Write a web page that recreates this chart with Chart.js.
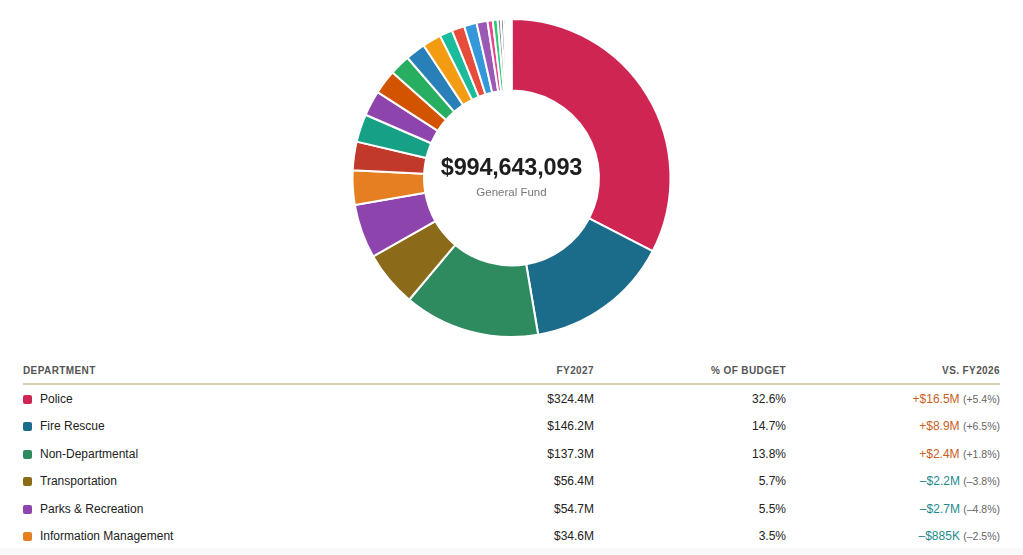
<!DOCTYPE html>
<html>
<head>
<meta charset="utf-8">
<script src="https://cdn.jsdelivr.net/npm/chart.js@4.4.1/dist/chart.umd.min.js"></script>
<style>
    html, body {
        margin: 0;
        padding: 0;
        background: #fff;
        width: 1023px;
        height: 555px;
        overflow: hidden;
        font-family: "Liberation Sans", Arial, Helvetica, sans-serif;
        color: #222;
    }
    #chartBox {
        position: absolute;
        left: 0;
        top: 18px;
        width: 1023px;
        height: 320px;
    }
    #centerLabel {
        position: absolute;
        left: 0;
        width: 1023px;
        top: 153px;
        text-align: center;
        pointer-events: none;
    }
    #centerTotal {
        font-size: 23.5px;
        font-weight: bold;
        color: #1e1e1e;
        line-height: 28px;
        letter-spacing: -0.2px;
    }
    #centerName {
        font-size: 11.5px;
        color: #777;
        line-height: 14px;
        margin-top: 4px;
    }
    #deptTable {
        position: absolute;
        left: 23px;
        top: 357px;
        width: 977px;
        border-collapse: collapse;
        table-layout: fixed;
    }
    #deptTable th {
        height: 26px;
        padding: 0;
        font-size: 10px;
        font-weight: bold;
        color: #555;
        letter-spacing: 0.4px;
        text-transform: uppercase;
        border-bottom: 2px solid #dcd0b2;
        vertical-align: middle;
    }
    #deptTable td {
        height: 27.5px;
        padding: 0;
        font-size: 12px;
        color: #222;
        vertical-align: middle;
        white-space: nowrap;
    }
    .left { text-align: left; }
    .right { text-align: right; }
    .swatch {
        display: inline-block;
        width: 9px;
        height: 9px;
        border-radius: 2px;
        margin-right: 8px;
        vertical-align: -1px;
    }
    .up { color: #c8601e; }
    .down { color: #1e8a8c; }
    .pct { font-size: 10.5px; color: #666; }
    #fade {
        position: absolute;
        left: 0;
        top: 548px;
        width: 1023px;
        height: 7px;
        background: #f9f9f9;
    }
</style>
</head>
<body>

<div id="chartBox"><canvas id="chart"></canvas></div>
<div id="centerLabel">
    <div id="centerTotal"></div>
    <div id="centerName">General Fund</div>
</div>

<table id="deptTable">
    <colgroup>
        <col style="width:440px">
        <col style="width:131px">
        <col style="width:192px">
        <col style="width:214px">
    </colgroup>
    <thead>
        <tr>
            <th class="left">Department</th>
            <th class="right">FY2027</th>
            <th class="right">% of Budget</th>
            <th class="right">vs. FY2026</th>
        </tr>
    </thead>
    <tbody id="tableBody"></tbody>
</table>
<div id="fade"></div>

<script>
// General Fund total
const totalBudget = 994643093;
const fundName = "General Fund";

// named departments (shown in the table)
const departments = ["Police", "Fire Rescue", "Non-Departmental", "Transportation", "Parks & Recreation", "Information Management"];
const fy2027 = [324.4, 146.2, 137.3, 56.4, 54.7, 34.6];           // $M
const budgetShare = [32.6, 14.7, 13.8, 5.7, 5.5, 3.5];             // %
const changeVsFy2026 = [16.5, 8.9, 2.4, -2.2, -2.7, -0.885];       // $M
const changePct = [5.4, 6.5, 1.8, -3.8, -4.8, -2.5];               // %

// remaining smaller departments ($M)
const otherValues = [28.9, 28.2, 25.5, 24.7, 20.8, 20.3, 18.9, 13.0, 12.9, 12.7, 11.0,
    5.3, 4.9, 3.3, 2.8, 2.2, 1.7, 1.2, 0.9, 0.7, 0.5, 0.4, 0.2];

const deptColors = ["#cf2553", "#1b6c8b", "#2e8b5f", "#8b6b1a", "#8e44ad", "#e67e22"];
const otherColors = ["#c0392b", "#16a085", "#8e44ad", "#d35400", "#27ae60", "#2980b9",
    "#f39c12", "#1abc9c", "#e74c3c", "#3498db", "#9b59b6", "#e84393", "#2ecc71",
    "#7f8c8d", "#5d6d7e", "#48c9e0", "#f0b27a", "#d5d8dc", "#aed6f1", "#f5cba7",
    "#d7bde2", "#a9dfbf", "#fadbd8"];

function formatMoney(m) {
    let a = Math.abs(m);
    if (a < 1) return "$" + Math.round(a * 1000) + "K";
    return "$" + a.toFixed(1) + "M";
}

function signOf(v) {
    return v < 0 ? "\u2013" : "+";
}

function buildTable() {
    let body = document.getElementById("tableBody");
    for (let i = 0; i < departments.length; i++) {
        let tr = document.createElement("tr");
        let cls = changeVsFy2026[i] < 0 ? "down" : "up";
        tr.innerHTML =
            '<td class="left"><span class="swatch" style="background:' + deptColors[i] + '"></span>' +
            departments[i].replace("&", "&amp;") + '</td>' +
            '<td class="right">' + formatMoney(fy2027[i]) + '</td>' +
            '<td class="right">' + budgetShare[i].toFixed(1) + '%</td>' +
            '<td class="right"><span class="' + cls + '">' + signOf(changeVsFy2026[i]) + formatMoney(changeVsFy2026[i]) +
            '</span> <span class="pct">(' + signOf(changePct[i]) + Math.abs(changePct[i]).toFixed(1) + '%)</span></td>';
        body.appendChild(tr);
    }
}

function drawChart() {
    let ctx = document.getElementById("chart").getContext("2d");
    let labels = departments.concat(otherValues.map(() => ""));

    new Chart(ctx, {
        type: "doughnut",
        data: {
            labels: labels,
            datasets: [{
                data: fy2027.concat(otherValues),
                backgroundColor: deptColors.concat(otherColors),
                borderColor: "#ffffff",
                borderWidth: 2
            }]
        },
        options: {
            responsive: true,
            maintainAspectRatio: false,
            animation: false,
            cutout: "55%",
            layout: { padding: 0 },
            plugins: {
                legend: { display: false },
                tooltip: { enabled: false }
            }
        }
    });
}

document.getElementById("centerTotal").textContent = "$" + totalBudget.toLocaleString("en-US");
document.getElementById("centerName").textContent = fundName;
buildTable();
drawChart();
</script>
</body>
</html>
